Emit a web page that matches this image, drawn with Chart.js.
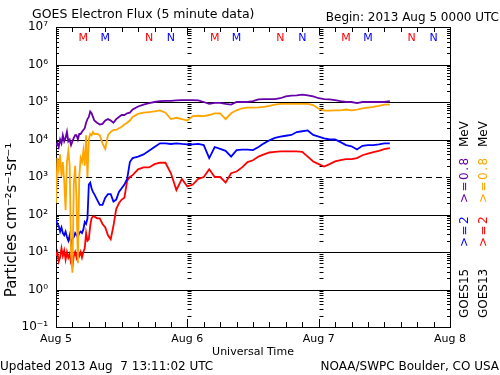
<!DOCTYPE html>
<html>
<head>
<meta charset="utf-8">
<script src="https://cdn.jsdelivr.net/npm/chart.js@4.4.1/dist/chart.umd.min.js"></script>
<style>
  body { margin: 0; background: #fff; }
</style>
</head>
<body>
<canvas id="fluxChart" width="500" height="375"></canvas>
<script>
// hours since 2013 Aug 5 00:00 UT
var hours = [0, 0.25, 0.5, 0.75, 1, 1.25, 1.5, 1.75, 2, 2.25, 2.5, 2.75, 3, 3.25, 3.5, 3.75, 4, 4.25, 4.5, 4.75,
  5, 5.25, 5.5, 5.75, 6, 6.25, 6.5, 6.75, 7, 7.5, 8, 8.5, 9, 9.5, 10, 10.5, 11, 11.5, 12, 12.5, 13, 13.5, 14,
  15, 16, 17, 18, 19, 20, 21, 22, 23, 24, 25, 26, 27, 28, 29, 30, 31, 32, 33, 34, 35, 36, 37, 38, 39, 40,
  41, 42, 43, 44, 45, 46, 47, 48, 49, 50, 51, 52, 53, 54, 55, 56, 57, 58, 59, 60, 61];

// GOES15 >=2 MeV
var goes15_2 = [71, 56, 50, 35, 45, 32, 28, 35, 25, 20, 28, 16, 22, 25, 32, 28, 25, 32, 35, 32,
  40, 63, 56, 79, 630, 710, 500, 400, 350, 250, 180, 180, 280, 350, 350, 220, 250, 400, 500, 630, 890, 2500, 3200,
  3500, 4000, 5000, 6300, 7900, 7900, 7600, 7900, 7600, 7400, 7400, 7600, 7100, 3200, 6300, 5600, 5000, 3500, 5200, 5400, 5400, 5200, 6300, 7900, 9500, 11000,
  12000, 12600, 13200, 15800, 16600, 17400, 13200, 12000, 10700, 10000, 10000, 8500, 7100, 6600, 5400, 6800, 7100, 7100, 7400, 7900, 7900];

// GOES13 >=2 MeV
var goes13_2 = [7.9, 10, 5.6, 7.1, 12.6, 7.9, 11, 6.3, 10, 7.1, 8.9, 5.0, 4.0, 7.9, 10, 7.1, 11, 7.9, 10, 7.1,
  10, 12.6, 32, 20, 22, 50, 79, 89, 89, 79, 79, 56, 45, 28, 22, 50, 140, 200, 250, 280, 790, 1000, 1120,
  1600, 1800, 1800, 2200, 2400, 2400, 1260, 450, 890, 560, 630, 890, 1000, 1600, 1000, 1000, 710, 1260, 1400, 1800, 2500, 2800, 3500, 4000, 4500, 4700,
  4800, 4800, 4800, 4800, 4700, 3500, 2600, 2200, 1900, 2200, 2600, 2800, 3000, 3000, 3200, 3800, 4200, 4600, 5000, 5500, 5900];

// GOES15 >=0.8 MeV
var goes15_08 = [7100, 7900, 6300, 10000, 7900, 13000, 8900, 11000, 16000, 8900, 10000, 7100, 8900, 11000, 13000, 13000, 10000, 14000, 14000, 16000,
  18000, 20000, 28000, 35000, 40000, 56000, 50000, 40000, 32000, 28000, 25000, 26000, 32000, 35000, 32000, 28000, 35000, 40000, 45000, 45000, 50000, 52000, 63000,
  76000, 85000, 93000, 100000, 105000, 107000, 107000, 110000, 112000, 112000, 112000, 110000, 100000, 89000, 95000, 95000, 89000, 85000, 100000, 100000, 100000, 105000, 117000, 120000, 120000, 120000,
  126000, 141000, 148000, 151000, 158000, 151000, 141000, 126000, 120000, 117000, 112000, 105000, 100000, 100000, 93000, 100000, 100000, 100000, 100000, 100000, 105000];

// GOES13 >=0.8 MeV
var goes13_08 = [200, 3200, 1600, 4000, 1000, 2500, 790, 130, 2500, 5000, 2000, 10, 2.8, 630, 2000, 250, 5, 1000, 3200, 2500,
  5000, 2000, 13000, 1000, 10000, 14000, 13000, 16000, 14000, 14000, 13000, 7900, 5600, 13000, 16000, 18000, 18000, 20000, 22000, 25000, 28000, 32000, 40000,
  48000, 52000, 54000, 56000, 60000, 52000, 35000, 38000, 35000, 32000, 42000, 43000, 42000, 45000, 50000, 50000, 35000, 50000, 60000, 68000, 71000, 71000, 72000, 74000, 79000, 85000,
  89000, 89000, 89000, 89000, 89000, 89000, 83000, 66000, 59000, 59000, 60000, 60000, 63000, 60000, 63000, 68000, 71000, 74000, 79000, 85000, 85000];

var dayLabels = ['Aug 5', 'Aug 6', 'Aug 7', 'Aug 8'];
var decades = [0.1, 1, 10, 100, 1000, 10000, 100000, 1000000, 10000000];
var decadeLabels = ['10\u207B\u00B9', '10\u2070', '10\u00B9', '10\u00B2', '10\u00B3', '10\u2074', '10\u2075', '10\u2076', '10\u2077'];

// local midnight / noon markers (M / N) for GOES13 (red) and GOES15 (blue)
var markerHours = [5, 9, 17, 21, 29, 33, 41, 45, 53, 57, 65, 69];
var markerText = ['M', 'M', 'N', 'N', 'M', 'M', 'N', 'N', 'M', 'M', 'N', 'N'];
var markerColor = ['#ff0000', '#0000ff', '#ff0000', '#0000ff', '#ff0000', '#0000ff', '#ff0000', '#0000ff', '#ff0000', '#0000ff', '#ff0000', '#0000ff'];

var FONT = 'DejaVu Sans';

function points(values) {
  return hours.map(function (h, i) { return { x: h, y: values[i] }; });
}

var goesFrame = {
  id: 'goesFrame',
  beforeDatasetsDraw: function (chart) {
    var ctx = chart.ctx, a = chart.chartArea;
    var xs = chart.scales.x, ys = chart.scales.y;
    ctx.save();
    ctx.strokeStyle = '#000';
    ctx.lineWidth = 1;
    // horizontal decade lines, dashed at 10^3
    decades.forEach(function (v) {
      if (v <= 0.1 || v >= 1e7) return;
      var y = Math.round(ys.getPixelForValue(v)) + 0.5;
      ctx.setLineDash(v === 1000 ? [6, 4] : []);
      ctx.beginPath();
      ctx.moveTo(a.left, y);
      ctx.lineTo(a.right, y);
      ctx.stroke();
    });
    ctx.setLineDash([]);
    // log minor ticks on left, right and at day boundaries
    var dayX = [24, 48].map(function (h) { return Math.round(xs.getPixelForValue(h)) + 0.5; });
    for (var d = 0; d < decades.length - 1; d++) {
      for (var m = 2; m <= 9; m++) {
        var y = Math.round(ys.getPixelForValue(decades[d] * m)) + 0.5;
        ctx.beginPath();
        ctx.moveTo(a.left, y); ctx.lineTo(a.left + 3, y);
        ctx.moveTo(a.right, y); ctx.lineTo(a.right - 3, y);
        dayX.forEach(function (x) { ctx.moveTo(x, y); ctx.lineTo(x + 4, y); });
        ctx.stroke();
      }
    }
    // time ticks every 3 hours, top and bottom
    for (var h = 3; h < 72; h += 3) {
      var x = Math.round(xs.getPixelForValue(h)) + 0.5;
      var len = (h % 24 === 0) ? 8 : 5;
      ctx.beginPath();
      ctx.moveTo(x, a.bottom); ctx.lineTo(x, a.bottom - len);
      ctx.moveTo(x, a.top); ctx.lineTo(x, a.top + len);
      ctx.stroke();
    }
    ctx.strokeRect(Math.round(a.left) + 0.5, Math.round(a.top) + 0.5,
      Math.round(a.right - a.left), Math.round(a.bottom - a.top));
    ctx.restore();
  },
  afterDraw: function (chart) {
    var ctx = chart.ctx, xs = chart.scales.x;
    ctx.save();
    ctx.fillStyle = '#000';
    ctx.textBaseline = 'middle';
    ctx.font = '12.5px ' + FONT;
    ctx.textAlign = 'left';
    ctx.fillText('GOES Electron Flux (5 minute data)', 32, 15);
    ctx.font = '12px ' + FONT;
    ctx.fillText('Updated 2013 Aug  7 13:11:02 UTC', 0, 367);
    ctx.textAlign = 'right';
    ctx.fillText('Begin: 2013 Aug 5 0000 UTC', 499, 18);
    ctx.fillText('NOAA/SWPC Boulder, CO USA', 499, 367);

    // y axis title
    ctx.save();
    ctx.font = '15px ' + FONT;
    ctx.translate(12, 220);
    ctx.rotate(-Math.PI / 2);
    ctx.textAlign = 'center';
    ctx.fillText('Particles cm\u207B\u00B2s\u207B\u00B9sr\u207B\u00B9', 0, 0);
    ctx.restore();

    // M / N markers
    ctx.font = '11px ' + FONT;
    ctx.textAlign = 'center';
    markerHours.forEach(function (h, i) {
      ctx.fillStyle = markerColor[i];
      ctx.fillText(markerText[i], xs.getPixelForValue(h), 38);
    });

    // vertical satellite legend on the right
    var cols = [
      { x: 465, parts: [['GOES15', '#000', 318, 0], ['>=2', '#0000ff', 247, 1.5], ['>=0.8', '#6600aa', 203, 1.5], ['MeV', '#000', 147, 0]] },
      { x: 484, parts: [['GOES13', '#000', 318, 0], ['>=2', '#ff0000', 247, 1.5], ['>=0.8', '#ffa500', 203, 1.5], ['MeV', '#000', 147, 0]] }
    ];
    ctx.font = '12px ' + FONT;
    ctx.textAlign = 'left';
    cols.forEach(function (c) {
      c.parts.forEach(function (p) {
        ctx.save();
        ctx.translate(c.x, p[2]);
        ctx.rotate(-Math.PI / 2);
        ctx.fillStyle = p[1];
        ctx.letterSpacing = p[3] + 'px';
        ctx.fillText(p[0], 0, 0);
        ctx.restore();
      });
    });
    ctx.restore();
  }
};

var ctx = document.getElementById('fluxChart').getContext('2d');
var fluxChart = new Chart(ctx, {
  type: 'line',
  data: {
    datasets: [
      { label: 'GOES15 >=0.8 MeV', data: points(goes15_08), borderColor: '#6600aa' },
      { label: 'GOES13 >=0.8 MeV', data: points(goes13_08), borderColor: '#ffa500' },
      { label: 'GOES15 >=2 MeV', data: points(goes15_2), borderColor: '#0000ff' },
      { label: 'GOES13 >=2 MeV', data: points(goes13_2), borderColor: '#ff0000' }
    ]
  },
  options: {
    responsive: false,
    animation: false,
    layout: { padding: { top: 27, right: 50, left: 0, bottom: 0 } },
    elements: {
      point: { radius: 0 },
      line: { borderWidth: 1.8, tension: 0 }
    },
    plugins: {
      legend: { display: false },
      tooltip: { enabled: false }
    },
    scales: {
      x: {
        type: 'linear',
        min: 0,
        max: 72,
        grid: { display: false, drawTicks: false },
        border: { display: false },
        ticks: {
          stepSize: 24,
          color: '#000',
          padding: 6,
          maxRotation: 0,
          font: { family: FONT, size: 11 },
          callback: function (v) { return dayLabels[v / 24]; }
        },
        title: {
          display: true,
          text: 'Universal Time',
          color: '#000',
          font: { family: FONT, size: 11 },
          padding: { top: 0, bottom: 16 }
        },
        afterFit: function (s) { s.height = 48; }
      },
      y: {
        type: 'logarithmic',
        min: 0.1,
        max: 1e7,
        grid: { display: false, drawTicks: false },
        border: { display: false },
        afterBuildTicks: function (s) {
          s.ticks = decades.map(function (v) { return { value: v }; });
        },
        ticks: {
          color: '#000',
          padding: 8,
          autoSkip: false,
          font: { family: FONT, size: 12 },
          callback: function (v, i) { return decadeLabels[i]; }
        },
        afterFit: function (s) { s.width = 56; }
      }
    }
  },
  plugins: [goesFrame]
});
</script>
</body>
</html>
